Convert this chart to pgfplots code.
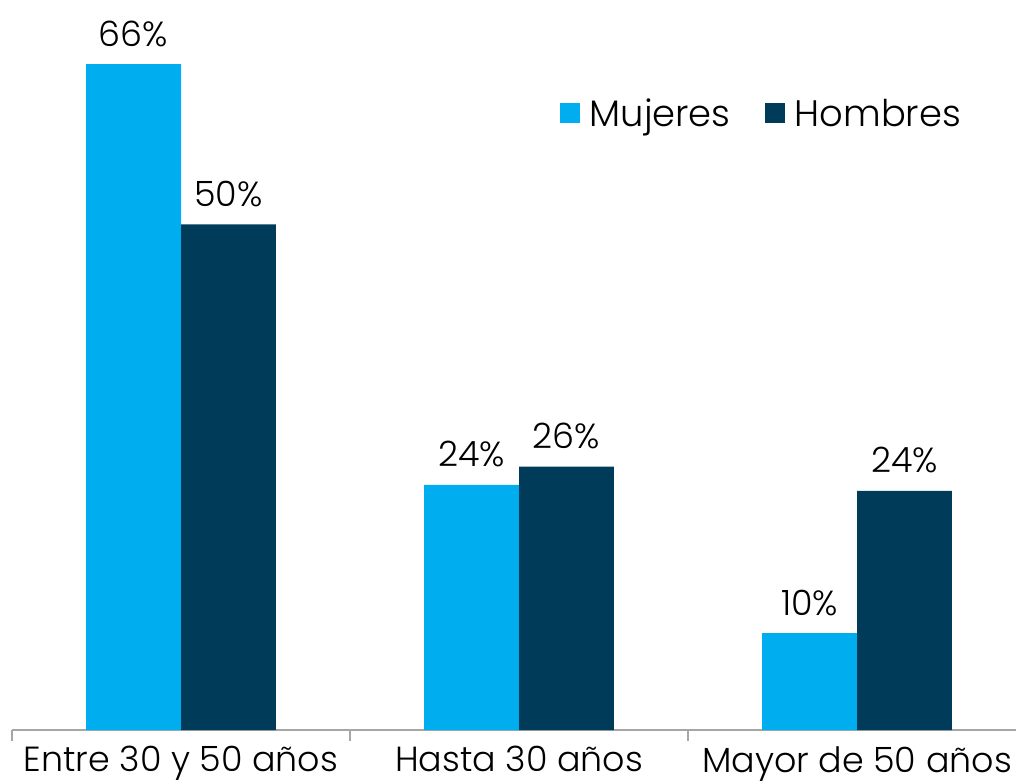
\documentclass[border=0pt]{standalone}
\usepackage{pgfplots}
\pgfplotsset{compat=1.18}
\usepackage{fontspec}
\setmainfont{Poppins Light}
\definecolor{cMuj}{HTML}{00AEEF}
\definecolor{cHom}{HTML}{003C5A}
\definecolor{cAx}{HTML}{A6A6A6}
\begin{document}
\begin{tikzpicture}
\begin{axis}[
  name=ax,
  scale only axis,
  width=1014bp, height=730bp,
  xmin=-0.5, xmax=2.5,
  ymin=0, ymax=72.35,
  axis x line*=bottom,
  axis y line=none,
  x axis line style={cAx, line width=2bp, -},
  xtick={0,1,2},
  xticklabels={Entre 30 y 50 años, Hasta 30 años, Mayor de 50 años},
  major tick length=0pt,
  minor xtick={-0.5,0.5,1.5,2.5},
  minor tick length=11bp,
  tick align=outside,
  minor tick style={cAx, line width=2bp},
  xticklabel style={font=\fontsize{35}{40}\selectfont, text=black, yshift=-13bp},
  /pgf/number format/assume math mode=true,
  ybar, bar width=0.281,
  point meta=explicit,
  nodes near coords={\pgfmathprintnumber{\pgfplotspointmeta}\%},
  nodes near coords style={font=\fontsize{35}{40}\selectfont, text=black, yshift=14bp},
  legend columns=2,
  legend style={draw=none, fill=none, at={(0.537,0.845)}, anchor=west,
    font=\fontsize{37}{40}\selectfont, /tikz/every even column/.append style={column sep=32bp}},
  legend image code/.code={\fill[#1] (0bp,-10bp) rectangle (20bp,10bp); \path (28bp,0bp);},
]
\addplot[fill=cMuj, draw=none, bar shift=-0.1405] coordinates {(0,66.0) [66] (1,24.3) [24] (2,9.6) [10]};
\addplot[fill=cHom, draw=none, bar shift=0.1405] coordinates {(0,50.1) [50] (1,26.1) [26] (2,23.7) [24]};
\legend{Mujeres, Hombres}
\end{axis}
\pgfresetboundingbox
\useasboundingbox ([xshift=-12bp,yshift=-53bp]ax.south west) rectangle ([xshift=-10bp]ax.north east);
\end{tikzpicture}
\end{document}
